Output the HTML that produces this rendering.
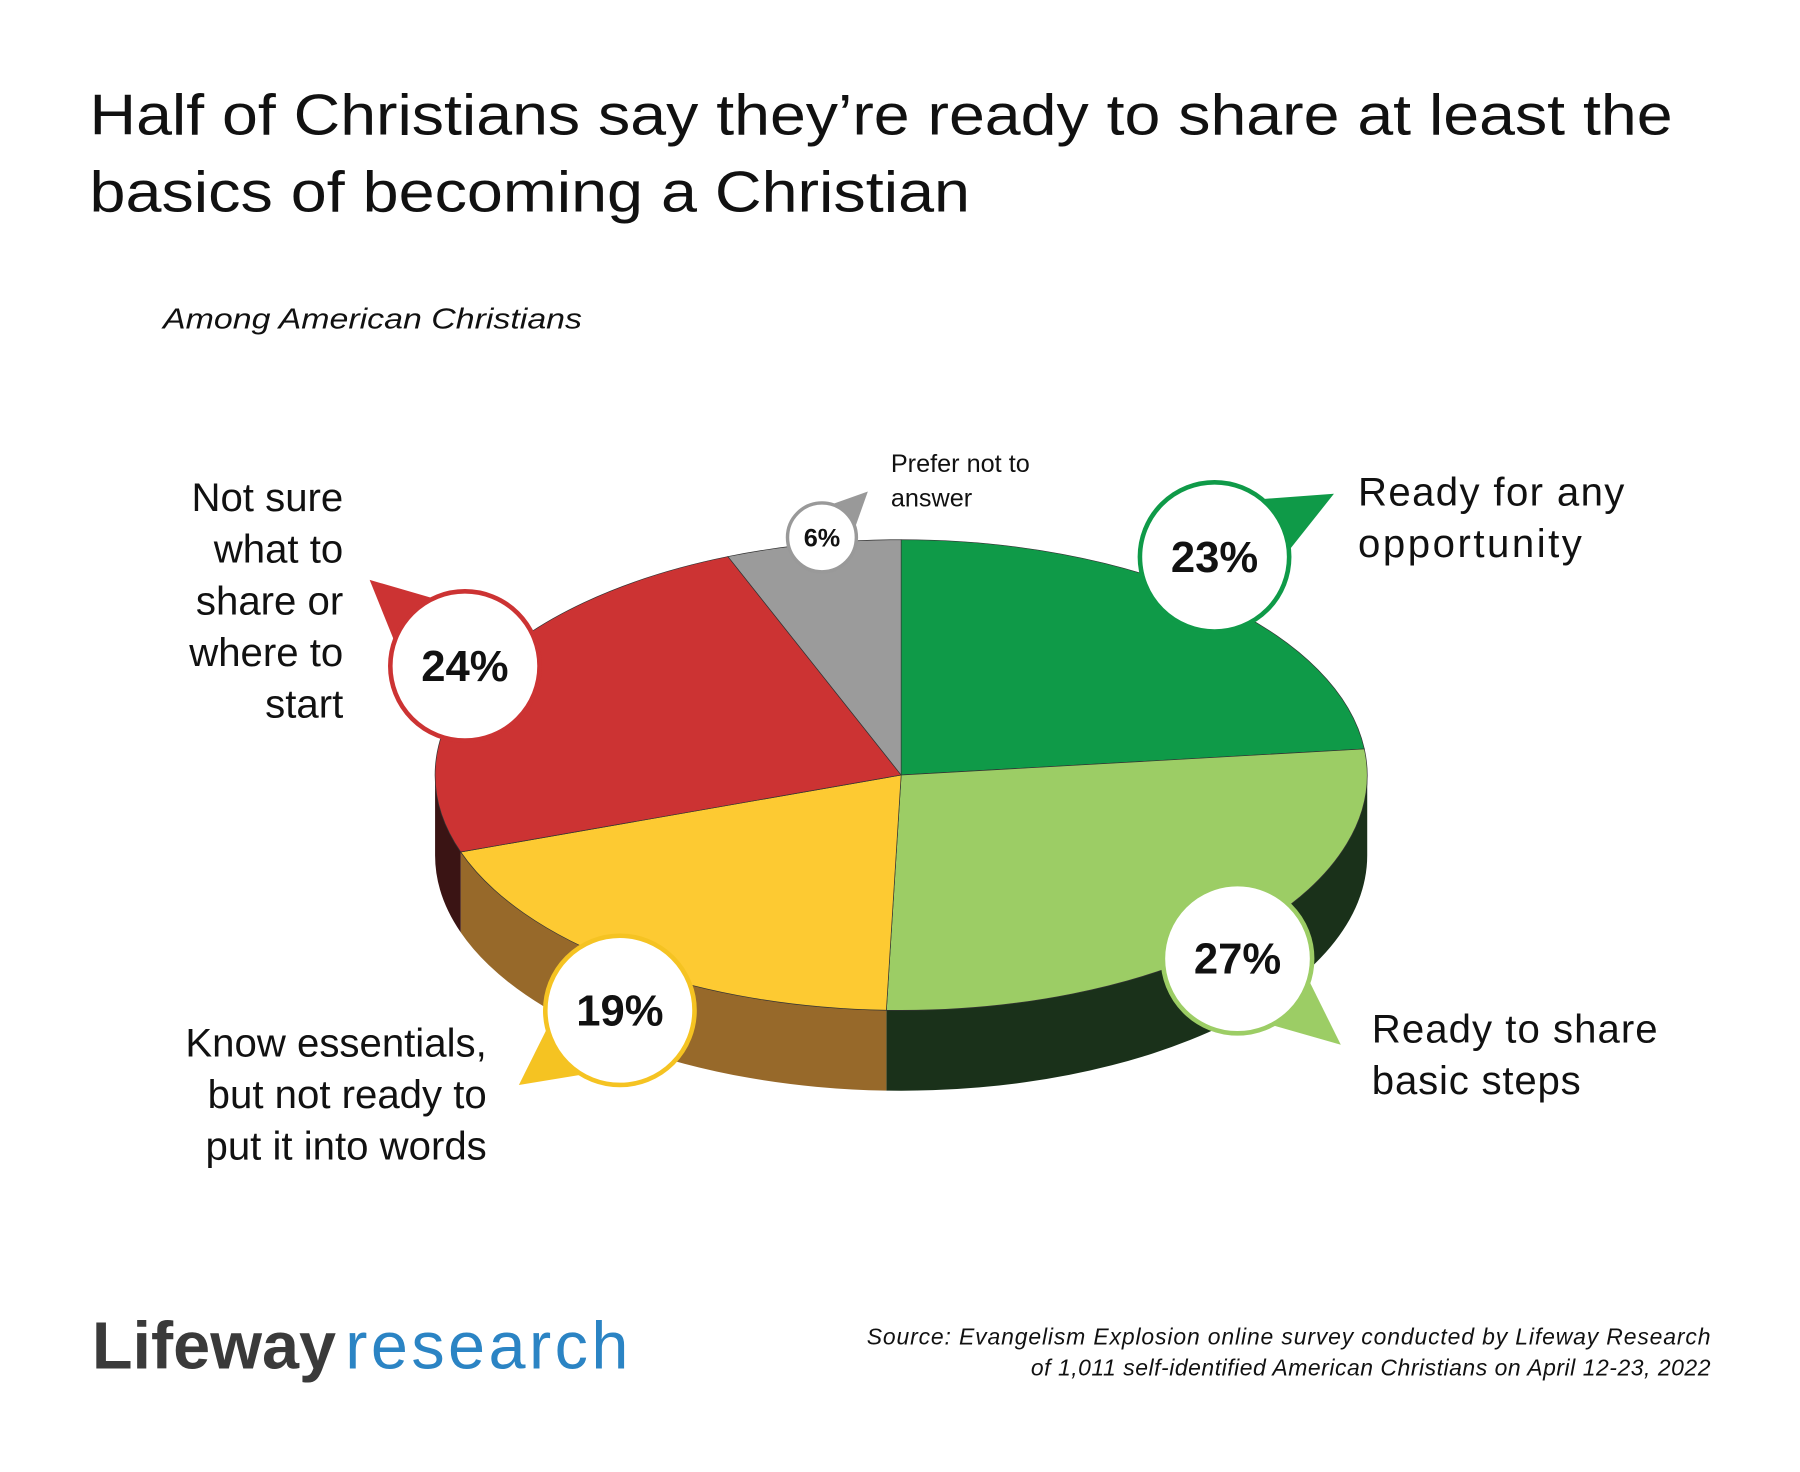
<!DOCTYPE html>
<html><head><meta charset="utf-8"><style>
body{margin:0;background:#fff}
svg{display:block}
text{font-family:"Liberation Sans",sans-serif}
</style></head><body>
<svg id="c" width="1800" height="1472" viewBox="0 0 1568 1282" xmlns="http://www.w3.org/2000/svg">
<rect width="1568" height="1282" fill="#fff"/>
<text x="78" y="117" font-size="50" fill="#111" textLength="1379" lengthAdjust="spacingAndGlyphs">Half of Christians say they’re ready to share at least the</text>
<text x="78" y="184" font-size="50" fill="#111" textLength="767" lengthAdjust="spacingAndGlyphs">basics of becoming a Christian</text>
<text x="142" y="286" font-size="25" font-style="italic" fill="#111" textLength="365" lengthAdjust="spacingAndGlyphs">Among American Christians</text>
<g id="pie"></g>
<g id="calls"></g>
<g font-size="35" fill="#111">
<text x="1183" y="440" textLength="232">Ready for any</text>
<text x="1183" y="485" textLength="195">opportunity</text>
<text x="1195" y="908" textLength="249">Ready to share</text>
<text x="1195" y="953" textLength="182">basic steps</text>
<g text-anchor="end">
<text x="299" y="445">Not sure</text>
<text x="299" y="490">what  to</text>
<text x="299" y="535">share or</text>
<text x="299" y="580">where to</text>
<text x="299" y="625">start</text>
<text x="424" y="920">Know essentials,</text>
<text x="424" y="965">but not ready to</text>
<text x="424" y="1010">put it into words</text>
</g>
</g>
<text x="776" y="411" font-size="22" fill="#111">Prefer not to</text>
<text x="776" y="441" font-size="22" fill="#111">answer</text>
<text x="80" y="1192" font-size="58"><tspan font-weight="bold" fill="#3a3a3a">Lifeway</tspan><tspan fill="#2b84c4" dx="8" letter-spacing="3">research</tspan></text>
<g font-size="20" font-style="italic" fill="#111" text-anchor="end">
<text x="1490" y="1171" textLength="735">Source: Evangelism Explosion online survey conducted by Lifeway Research</text>
<text x="1490" y="1198" textLength="592">of 1,011 self-identified American Christians on April 12-23, 2022</text>
</g>
</svg>
<script>
const categories=["Ready for any opportunity","Ready to share basic steps","Know essentials","Not sure what to share","Prefer not to answer"];
const values=[23,27,19,24,6];
const labels=["23%","27%","19%","24%","6%"];
const topColors=["#0f9a48","#9ccd65","#fdca32","#cc3333","#9b9b9b"];
const sideColors=["#16341a","#1a311a","#97692a","#3a1414","#555"];
const calloutCenters=[[1058,485],[1078,835],[540,880],[405,580],[716,468]];
const calloutTips=[[1162,430],[1168,910],[452,945],[322,505],[756,428]];
const calloutR=[65,65,65,65,30];
const NS="http://www.w3.org/2000/svg";
const cx=785,cy=675,rx=406,ry=205,depth=70;
const pie=document.getElementById('pie'),calls=document.getElementById('calls');
const total=values.reduce((a,b)=>a+b,0);
function pt(t,dy){return [cx+rx*Math.sin(t),cy-ry*Math.cos(t)+(dy||0)];}
function mk(tag,attrs){const e=document.createElementNS(NS,tag);for(const k in attrs)e.setAttribute(k,attrs[k]);return e;}
let acc=0;const angs=[];
values.forEach(v=>{const a1=acc/total*2*Math.PI;acc+=v;angs.push([a1,acc/total*2*Math.PI]);});
angs.forEach(([a1,a2],i)=>{
 const s=Math.max(a1,Math.PI/2),e=Math.min(a2,3*Math.PI/2);
 if(e<=s)return;
 const p1=pt(s),p2=pt(e),p3=pt(e,depth),p4=pt(s,depth);
 const d=`M${p1}A${rx},${ry} 0 0 1 ${p2}L${p3}A${rx},${ry} 0 0 0 ${p4}Z`;
 const p=mk('path',{d:d,fill:sideColors[i]});
 
 
 pie.appendChild(p);
});
angs.forEach(([a1,a2],i)=>{
 const p1=pt(a1),p2=pt(a2);const large=(a2-a1)>Math.PI?1:0;
 const p=mk('path',{d:`M${cx},${cy}L${p1}A${rx},${ry} 0 ${large} 1 ${p2}Z`,fill:topColors[i],stroke:'#333','stroke-width':0.6});
 
 
 pie.appendChild(p);
});
values.forEach((v,i)=>{
 const [x,y]=calloutCenters[i],[tx,ty]=calloutTips[i],r=calloutR[i];
 const ang=Math.atan2(ty-y,tx-x),w=r>40?0.4:0.5;
 const b1=[x+r*Math.cos(ang-w),y+r*Math.sin(ang-w)],b2=[x+r*Math.cos(ang+w),y+r*Math.sin(ang+w)];
 const col=i==4?'#999':topColors[i]==="#fdca32"?"#f5c322":topColors[i];
 const tri=mk('polygon',{points:`${b1} ${tx},${ty} ${b2}`,fill:col});
 
 
 calls.appendChild(tri);
 const c=mk('circle',{cx:x,cy:y,r:r,fill:'#fff',stroke:col,'stroke-width':r>40?4:3});
 
 
 calls.appendChild(c);
 const t=mk('text',{x:x,y:y+(r>40?13:8),'text-anchor':'middle','font-size':r>40?38:22,'font-weight':'bold',fill:'#111'});
 t.textContent=labels[i];
 
 
 calls.appendChild(t);
});
</script>
</body></html>
